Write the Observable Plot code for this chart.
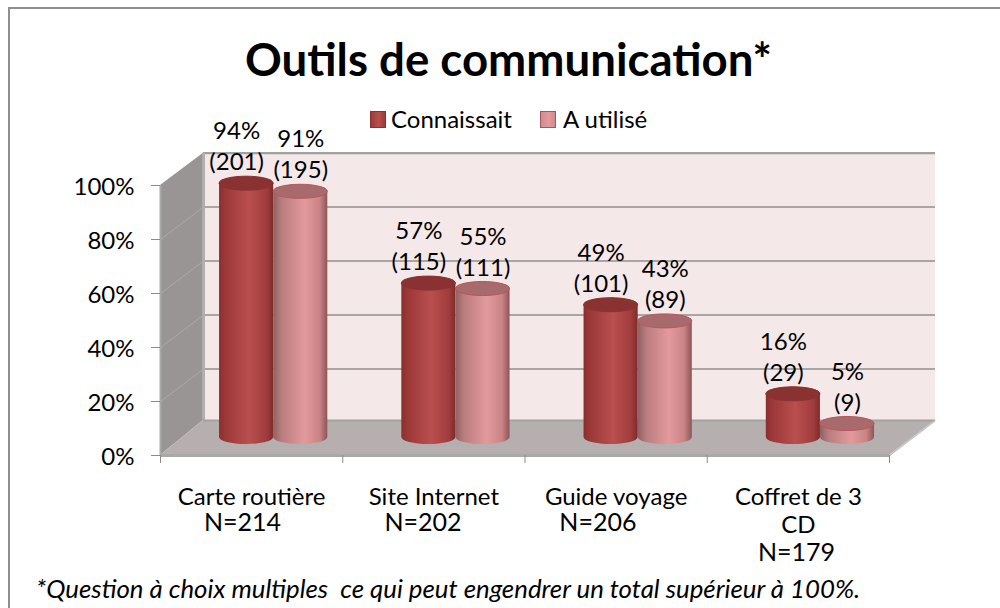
<!DOCTYPE html>
<html lang="fr">
<head>
<meta charset="utf-8">
<script src="https://cdn.jsdelivr.net/npm/d3@7"></script>
<script src="https://cdn.jsdelivr.net/npm/@observablehq/plot@0.6"></script>
<style>
  html, body { margin: 0; padding: 0; background: #fff; }
  #page { position: relative; width: 1000px; height: 608px; overflow: hidden; font-family: Lato, "Open Sans", sans-serif; color: #000; }
  #frame { position: absolute; left: 8px; top: 7px; right: 0; bottom: 0; border-left: 2px solid #8f8f8f; border-top: 2px solid #8f8f8f; box-sizing: border-box; pointer-events: none; }
  #chart { position: absolute; left: 0; top: 0; }
  #chart svg { display: block; background: transparent; }
  #title { position: absolute; left: 0; width: 1017px; top: 34px; text-align: center; font-weight: 700; font-size: 45.6px; line-height: 50px; white-space: nowrap; }
  #legend { position: absolute; top: 106px; left: 370px; height: 26px; font-size: 24px; line-height: 26px; white-space: nowrap; }
  #legend span.sw { position: absolute; top: 5px; width: 16px; height: 17px; }
  #legend span.tx { position: absolute; top: 0; }
  #caption { position: absolute; left: 36px; top: 573px; font-style: italic; font-size: 25.8px; line-height: 30px; white-space: pre; }
</style>
</head>
<body>
<div id="page">
  <div id="chart"></div>
  <div id="frame"></div>
  <div id="title"></div>
  <div id="legend"></div>
  <div id="caption"></div>
</div>
<script>
const titleText = "Outils de communication*";
const captionText = "*Question à choix multiples  ce qui peut engendrer un total supérieur à 100%.";
const seriesNames = ["Connaissait", "A utilisé"];
const categories = ["Carte routière", "Site Internet", "Guide voyage", "Coffret de 3\nCD"];
const sampleSizes = ["N=214", "N=202", "N=206", "N=179"];
const knewPercent = [94, 57, 49, 16];
const usedPercent = [91, 55, 43, 5];
const knewCounts = [201, 115, 101, 29];
const usedCounts = [195, 111, 89, 9];
const yTicks = [0, 20, 40, 60, 80, 100];

// chart-layout constants (scale units)
const barOffset = 0.324, barWidth = 0.297, capRy = 2.6, liftPx = -18;
const depthXL = 0.236, depthXR = 0.252, depthY = 12.96, wallTop = 111.9, wallGridLift = 12;
const nShift = [-0.05, -0.06, -0.10, -0.01];

const bars = [];
categories.forEach((c, i) => {
  bars.push({s: 0, i, v: knewPercent[i], n: knewCounts[i]});
  bars.push({s: 1, i, v: usedPercent[i], n: usedCounts[i]});
});
bars.forEach(b => { b.x1 = b.i + barOffset + b.s * barWidth; b.x2 = b.x1 + barWidth; b.xc = (b.x1 + b.x2) / 2; });

const defsMark = () => {
  const defs = d3.create("svg:defs");
  const grad = (id, stops) => {
    const g = defs.append("linearGradient").attr("id", id).attr("x1", 0).attr("x2", 1).attr("y1", 0).attr("y2", 0);
    stops.forEach(([o, c]) => g.append("stop").attr("offset", o).attr("stop-color", c));
  };
  grad("gKnew", [[0, "#8c2e2e"], [0.12, "#9c3838"], [0.55, "#b94f4e"], [0.88, "#a03c3c"], [1, "#7f2a2a"]]);
  grad("gUsed", [[0, "#8f6060"], [0.15, "#b97c7e"], [0.58, "#e39a9e"], [0.86, "#c98385"], [1, "#8d5557"]]);
  return defs.node();
};

const fs = 24;
const plot = Plot.plot({
  width: 1000, height: 608,
  marginLeft: 160, marginRight: 111, marginTop: 185, marginBottom: 153,
  x: {type: "linear", domain: [0, 4]},
  y: {type: "linear", domain: [0, 100]},
  style: {fontFamily: "Lato, 'Open Sans', sans-serif", color: "#000", background: "transparent", overflow: "visible"},
  marks: [
    defsMark,
    // back wall
    Plot.rect([0], {x1: depthXL, x2: 4 + depthXR, y1: depthY, y2: wallTop, fill: "#f5e8e8"}),
    Plot.ruleY(yTicks.slice(1), {y: d => d + wallGridLift, x1: depthXL, x2: 4 + depthXR, stroke: "#a9a5a5", strokeWidth: 2}),
    Plot.ruleY([wallTop], {x1: depthXL, x2: 4 + depthXR, stroke: "#a0a0a0", strokeWidth: 2}),
    // side wall
    Plot.areaY([{x: 0, y1: 0, y2: 100}, {x: depthXL, y1: depthY, y2: wallTop}], {x: "x", y1: "y1", y2: "y2", fill: "#9a9595"}),
    Plot.link(yTicks.slice(1, -1), {x1: 0, x2: depthXL, y1: d => d, y2: d => d + wallGridLift, stroke: "#aeaaaa", strokeWidth: 1}),
    Plot.ruleX([depthXL], {y1: depthY, y2: wallTop, stroke: "#b2aeae", strokeWidth: 3}),
    // floor
    Plot.areaX([{y: 0, x1: 0, x2: 4}, {y: depthY, x1: depthXL, x2: 4 + depthXR}], {y: "y", x1: "x1", x2: "x2", fill: "#b6afaf"}),
    Plot.ruleY([depthY], {x1: depthXL, x2: 4 + depthXR, stroke: "#a5a1a1", strokeWidth: 2}),
    Plot.link([0], {x1: 4, y1: 0, x2: 4 + depthXR, y2: depthY, stroke: "#c4c0c0", strokeWidth: 1.5}),
    Plot.ruleY([0], {x1: 0, x2: 4, stroke: "#a8a8a8", strokeWidth: 3}),
    Plot.ruleX([0], {y1: 0, y2: 100, stroke: "#a8a8a8", strokeWidth: 2}),
    // axes
    Plot.axisY({ticks: yTicks, tickSize: 9, tickFormat: () => "", stroke: "#8a8a8a", anchor: "left", label: null}),
    Plot.axisY({ticks: yTicks, tickSize: 0, tickFormat: d => d + "%", fontSize: fs, tickPadding: 26, dy: 2, anchor: "left", label: null}),
    Plot.axisX({ticks: [0, 1, 2, 3, 4], tickSize: 8, tickFormat: () => "", stroke: "#8a8a8a", anchor: "bottom", label: null}),
    // cylinders, one body and cap per bar
    ...bars.map(b => [
      Plot.rect([b], {x1: "x1", x2: "x2", y1: -capRy, y2: d => d.v + capRy, dy: liftPx, rx: 27, ry: 7,
        fill: b.s ? "url(#gUsed)" : "url(#gKnew)"}),
      Plot.rect([b], {x1: "x1", x2: "x2", y1: d => d.v - capRy, y2: d => d.v + capRy, dy: liftPx, rx: 27, ry: 7,
        fill: b.s ? "#a76b6d" : "#8a3232", stroke: b.s ? "#b9565a" : "#8a3232", strokeWidth: 1})
    ]),
    // data labels
    Plot.text(bars, {x: "xc", y: "v", text: d => `(${d.n})`, fontSize: fs, dx: 0, dy: -39, lineAnchor: "middle",
      filter: d => d.s === 1}),
    Plot.text(bars, {x: "xc", y: "v", text: d => `(${d.n})`, fontSize: fs, dx: -10, dy: -39, lineAnchor: "middle",
      filter: d => d.s === 0}),
    Plot.text(bars, {x: "xc", y: "v", text: d => `${d.v}%`, fontSize: fs, dx: 0, dy: -70, lineAnchor: "middle",
      filter: d => d.s === 1}),
    Plot.text(bars, {x: "xc", y: "v", text: d => `${d.v}%`, fontSize: fs, dx: -10, dy: -70, lineAnchor: "middle",
      filter: d => d.s === 0}),
    // category labels
    Plot.text(categories, {x: (d, i) => i + 0.5, y: 0, text: d => d, fontSize: fs, lineAnchor: "top", lineHeight: 1.16, dy: 30}),
    Plot.text(sampleSizes, {x: (d, i) => i + 0.5 + nShift[i], y: 0, text: d => d, fontSize: 25, dy: 67, lineAnchor: "middle",
      filter: (d, i) => i < 3}),
    Plot.text(sampleSizes, {x: (d, i) => i + 0.5 + nShift[i], y: 0, text: d => d, fontSize: 25, dy: 97, lineAnchor: "middle",
      filter: (d, i) => i === 3})
  ]
});
document.getElementById("chart").appendChild(plot);

document.getElementById("title").textContent = titleText;
document.getElementById("caption").textContent = captionText;
const legend = d3.select("#legend");
[[0, 21, "linear-gradient(90deg,#9c3a3a,#b94f4e 55%,#9c3a3a)"], [170, 193, "linear-gradient(90deg,#cf8c8e,#e39a9e 55%,#cf8c8e)"]].forEach(([sx, tx, bg], i) => {
  legend.append("span").attr("class", "sw").style("left", sx + "px").style("background", bg).style("border", "1px solid " + (i ? "#a05a5c" : "#8f3030")).style("box-sizing", "border-box");
  legend.append("span").attr("class", "tx").style("left", tx + "px").text(seriesNames[i]);
});
</script>
</body>
</html>
